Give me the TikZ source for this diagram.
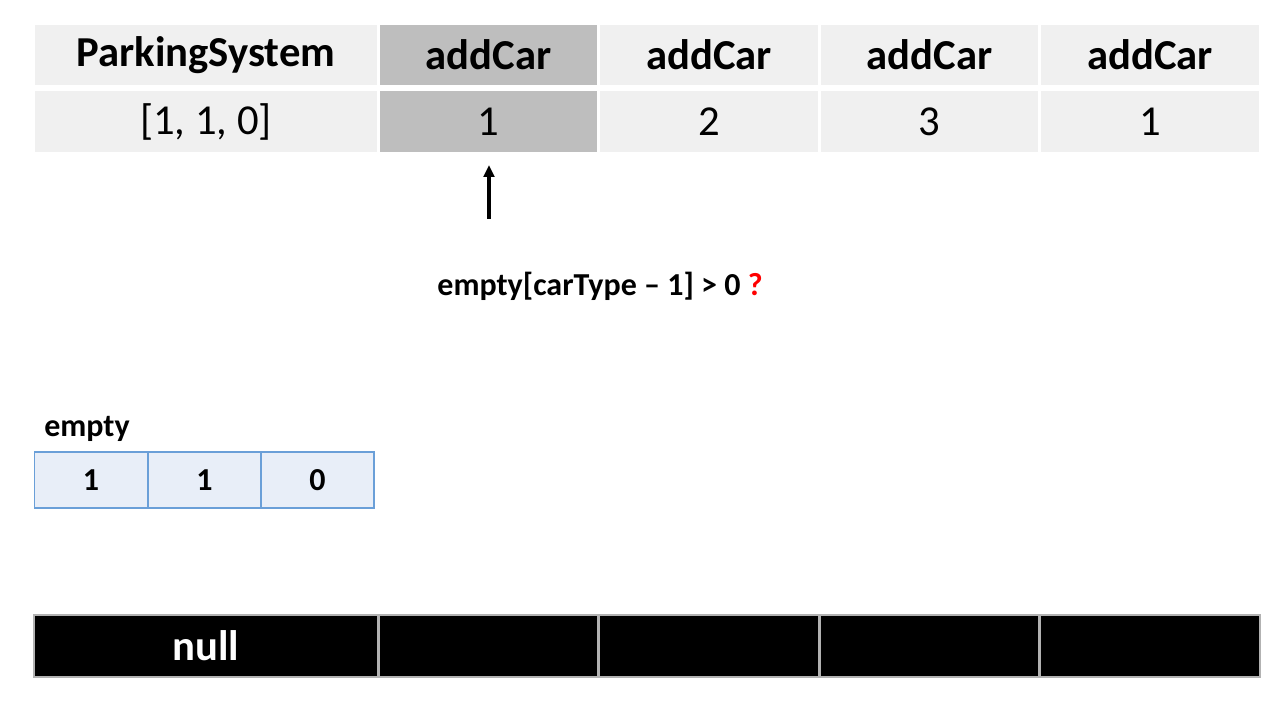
\documentclass[tikz,border=0pt]{standalone}
\usepackage{fontspec}
\setmainfont{Carlito}
\usetikzlibrary{arrows.meta}
\definecolor{cellgray}{HTML}{F0F0F0}
\definecolor{cellhi}{HTML}{BEBEBE}
\definecolor{arrfill}{HTML}{E8EEF8}
\definecolor{arredge}{HTML}{6A9FD8}
\definecolor{qred}{HTML}{FF0000}
% one unit = one pixel of a 1280 x 720 canvas (0.75pt)
\tikzset{
  cell/.style={minimum height=#1, inner sep=0pt, outer sep=0pt, anchor=center},
  head/.style={cell=46.5pt, fill=cellgray, draw=white, line width=0.8pt, font=\fontsize{32}{38}\selectfont\bfseries},
  arg/.style={cell=47.25pt, fill=cellgray, draw=white, line width=0.8pt, font=\fontsize{32}{38}\selectfont},
  hi/.style={fill=cellhi},
  outcell/.style={cell=46.5pt, fill=black, draw=gray!60, line width=0.8pt, text=white, font=\fontsize{32}{38}\selectfont\bfseries},
  slot/.style={cell=42pt, minimum width=84.75pt, fill=arrfill, draw=arredge, line width=0.8pt, font=\fontsize{24}{28}\selectfont\bfseries},
  wide/.style={minimum width=258pt},
  narrow/.style={minimum width=164.25pt},
  mid/.style={minimum width=165pt},
  pxgrid/.style={x=0.75pt, y=-0.75pt}
}
\begin{document}
\begin{tikzpicture}[pxgrid]
\useasboundingbox[fill=white] (0,0) rectangle (1280,720);

% call names
\node[head, wide] (h1) at (206,55) {ParkingSystem};
\node[head, hi, narrow] (h2) at (488.5,55) {addCar};
\node[head, mid] (h3) at (709,55) {addCar};
\node[head, narrow] (h4) at (929.5,55) {addCar};
\node[head, mid] (h5) at (1150,55) {addCar};

% arguments
\node[arg, wide] (a1) at (206,121.5) {[1, 1, 0]};
\node[arg, hi, narrow] (a2) at (488.5,121.5) {1};
\node[arg, mid] (a3) at (709,121.5) {2};
\node[arg, narrow] (a4) at (929.5,121.5) {3};
\node[arg, mid] (a5) at (1150,121.5) {1};

% pointer to the current call and the check performed
\coordinate (foot) at (489,219);
\draw[line width=2.5pt, -{Triangle[length=9pt, width=8pt]}, shorten >=9pt] (foot) -- (foot |- a2.south);
\node[font=\fontsize{24}{28}\selectfont\bfseries] (check) at (600,286)
  {empty[carType -- 1] > 0 \textcolor{qred}{?}};

% free slots per car type
\node[font=\fontsize{24}{28}\selectfont\bfseries, anchor=west, inner sep=0pt] (lbl) at (44,429) {empty};
\node[slot] (e1) at (91,480) {1};
\node[slot] (e2) at (204.5,480) {1};
\node[slot] (e3) at (317.5,480) {0};

% output row
\node[outcell, wide] (o1) at (206,646) {null};
\node[outcell, narrow] (o2) at (488.5,646) {};
\node[outcell, mid] (o3) at (709,646) {};
\node[outcell, narrow] (o4) at (929.5,646) {};
\node[outcell, mid] (o5) at (1150,646) {};
\end{tikzpicture}
\end{document}
